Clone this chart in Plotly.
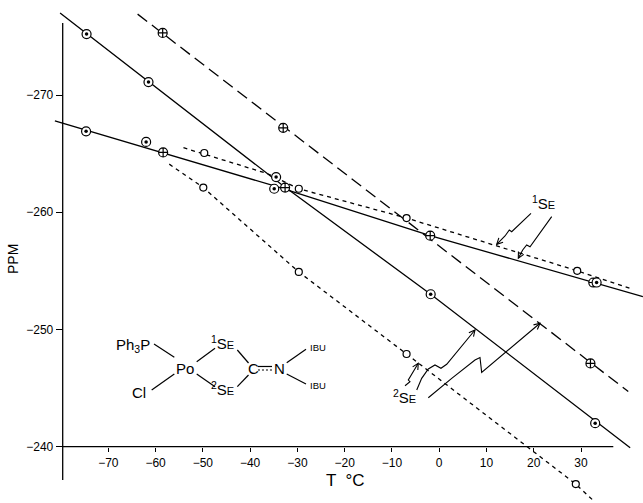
import math
import plotly.graph_objects as go

# --- data (temperature in deg C, shift in ppm) ---
# line A: steep solid line, circle-dot markers
a_temp = [-74.6, -61.5, -34.5, -1.8, 33.0]
a_ppm = [-275.2, -271.1, -263.0, -253.0, -242.0]
a_line_temp = [-80.2, -36.4, -33.5, -1.8, 40.4]
a_line_ppm = [-277.0, -263.3, -262.4, -253.0, -239.9]

# line B: long dashes, circle-cross markers
b_temp = [-58.5, -33.0, -1.9, 32.0]
b_ppm = [-275.3, -267.2, -258.0, -247.1]
b_line_temp = [-63.8, 40.0]
b_line_ppm = [-276.9, -244.7]

# line C: shallow solid line, mixed markers
c_dot_temp = [-74.7, -62.0, -34.9, 33.3]
c_dot_ppm = [-266.9, -266.0, -262.0, -254.0]
c_plus_temp = [-58.4, -32.6, 32.6]
c_plus_ppm = [-265.1, -262.1, -254.0]
c_line_temp = [-81.3, -34.5, -1.9, 32.8, 43.1]
c_line_ppm = [-267.8, -262.2, -258.0, -254.0, -252.8]

# line D: upper dotted line, open circles
d_temp = [-49.7, -29.7, -6.9, 29.2]
d_ppm = [-265.05, -262.0, -259.5, -255.0]
d_line_temp = [-54.1, -36.4, -29.7, -6.9, 29.2, 40.4]
d_line_ppm = [-265.5, -263.3, -262.0, -259.5, -255.0, -253.5]

# line E: lower dotted line, open circles
e_temp = [-49.9, -29.7, -6.9, 28.9]
e_ppm = [-262.1, -254.9, -247.9, -236.8]
e_line_temp = [-57.1, -49.9, -29.7, -6.9, 28.9, 32.6]
e_line_ppm = [-264.1, -262.1, -254.9, -247.9, -236.8, -235.4]

x_ticks = [-70, -60, -50, -40, -30, -20, -10, 0, 10, 20, 30]
y_ticks = [-270, -260, -250, -240]

# --- page geometry ---
W, H = 643, 503
X70, XS = 108.3, 4.727    # pixel of -70 C, pixels per degree
Y270, YS = 95.0, 11.72    # pixel of -270 ppm, pixels per ppm
FONT = "Liberation Sans"


def paper(px, py):
    return px / W, 1 - py / H


def path(points):
    pts = [paper(*p) for p in points]
    return "M" + " L".join(f"{x:.4f},{y:.4f}" for x, y in pts)


fig = go.Figure()

solid = dict(color="black", width=1.3)
fig.add_trace(go.Scatter(x=a_line_temp, y=a_line_ppm, mode="lines", line=solid))
fig.add_trace(go.Scatter(x=b_line_temp, y=b_line_ppm, mode="lines",
                         line=dict(color="black", width=1.3, dash="12px,6px")))
fig.add_trace(go.Scatter(x=c_line_temp, y=c_line_ppm, mode="lines", line=solid))
fig.add_trace(go.Scatter(x=d_line_temp, y=d_line_ppm, mode="lines",
                         line=dict(color="black", width=1.3, dash="4px,4px")))
fig.add_trace(go.Scatter(x=e_line_temp, y=e_line_ppm, mode="lines",
                         line=dict(color="black", width=1.3, dash="4px,4px")))

ring = dict(color="white", line=dict(color="black", width=1.2))
plus_x = b_temp + c_plus_temp
plus_y = b_ppm + c_plus_ppm
dot_x = a_temp + c_dot_temp
dot_y = a_ppm + c_dot_ppm
fig.add_trace(go.Scatter(x=plus_x, y=plus_y, mode="markers",
                         marker=dict(symbol="circle-cross", size=9, **ring)))
fig.add_trace(go.Scatter(x=dot_x, y=dot_y, mode="markers",
                         marker=dict(symbol="circle", size=9, **ring)))
fig.add_trace(go.Scatter(x=dot_x, y=dot_y, mode="markers",
                         marker=dict(symbol="circle", size=3.5, color="black")))
fig.add_trace(go.Scatter(x=d_temp + e_temp, y=d_ppm + e_ppm, mode="markers",
                         marker=dict(symbol="circle", size=7, **ring)))

x_lo = -70 - X70 / XS
x_hi = -70 + (W - X70) / XS
y_top = -270 - Y270 / YS
y_bot = -270 + (H - Y270) / YS
x_axis_px = 62.7
y_axis_px = 447.3

fig.update_layout(
    width=W, height=H,
    margin=dict(l=0, r=0, t=0, b=0),
    paper_bgcolor="white", plot_bgcolor="white",
    showlegend=False,
    font=dict(family=FONT, color="black"),
    xaxis=dict(range=[x_lo, x_hi], anchor="free", position=1 - y_axis_px / H,
               tickvals=x_ticks, ticktext=[str(t).replace("-", "\u2212") for t in x_ticks],
               ticks="outside", ticklen=4, tickwidth=1.2, tickcolor="black",
               tickfont=dict(size=12), showgrid=False, zeroline=False, showline=False),
    yaxis=dict(range=[y_bot, y_top], anchor="free", position=x_axis_px / W,
               tickvals=y_ticks, ticktext=[str(t).replace("-", "\u2212") for t in y_ticks],
               ticks="outside", ticklen=7, tickwidth=1.2, tickcolor="black",
               tickfont=dict(size=12), showgrid=False, zeroline=False, showline=False),
)

# axis lines
x_left = -70 + (x_axis_px - X70) / XS
x_right = -70 + (613.3 - X70) / XS
fig.add_shape(type="line", xref="x", yref="y", x0=x_left, x1=x_right, y0=-240, y1=-240,
              line=dict(color="black", width=1.3))
fig.add_shape(type="line", xref="x", yref="y", x0=x_left, x1=x_left,
              y0=-270 + (23 - Y270) / YS, y1=-270 + (480 - Y270) / YS,
              line=dict(color="black", width=1.3))


def label(px, py, txt, size, angle=0):
    x, y = paper(px, py)
    fig.add_annotation(x=x, y=y, xref="paper", yref="paper", text=txt,
                       xanchor="center", yanchor="middle", textangle=angle,
                       showarrow=False, font=dict(size=size))


# axis titles
label(346, 480, "T  \u00b0C", 17)
label(13, 259, "PPM", 14, -90)

# structure drawing
bonds = [
    [(154, 344), (174.3, 357.3)],
    [(151.7, 390), (174.3, 374)],
    [(196.7, 361.7), (215, 348.3)],
    [(196.7, 374), (215, 386.7)],
    [(237.3, 350), (248.5, 363)],
    [(237.3, 386.7), (248.5, 375)],
    [(258, 366.5), (272, 366.5)],
    [(286.7, 362.7), (306, 349.3)],
    [(286.7, 374), (306, 384)],
]
for seg in bonds:
    fig.add_shape(type="path", xref="paper", yref="paper", path=path(seg),
                  line=dict(color="black", width=1.2))
fig.add_shape(type="path", xref="paper", yref="paper", path=path([(258, 370), (272, 370)]),
              line=dict(color="black", width=1.2, dash="2px,2px"))

small_e = "<span style='font-size:11px'>E</span>"
se1 = "<sup>1</sup>S" + small_e
se2 = "<sup>2</sup>S" + small_e
label(133, 345, "Ph<sub>3</sub>P", 15)
label(185, 368, "Po", 15)
label(139, 392, "Cl", 15)
label(223, 342, se1, 15)
label(223, 388, se2, 15)
label(253, 368, "C", 15)
label(279, 368, "N", 15)
label(318, 347, "IBU", 9.5)
label(318, 385, "IBU", 9.5)
label(543, 203, se1, 15)
label(404, 396, se2, 15)

# squiggly arrows: body path ending in an open arrow head
arrows = [
    [(531, 213.3), (511.7, 231.7), (509.3, 230), (505, 236), (496.7, 244.3)],
    [(551.7, 216.7), (530, 246.7), (526.7, 245), (522.7, 250), (518.3, 258.3)],
    [(405, 385.7), (410, 381.7), (408.3, 380), (418.3, 363.3)],
    [(416.7, 390), (421.7, 378.3), (428.3, 369), (435, 365), (441, 368.3),
     (446.7, 364.3), (475, 330)],
    [(428.3, 397.7), (451.7, 378.3), (475, 360), (480, 357.5), (481.7, 372.3),
     (540, 323.3)],
]
for pts in arrows:
    fig.add_shape(type="path", xref="paper", yref="paper", path=path(pts),
                  line=dict(color="black", width=1.1))
    (tx, ty), (hx, hy) = pts[-2], pts[-1]
    d = math.hypot(hx - tx, hy - ty)
    ux, uy = (hx - tx) / d, (hy - ty) / d
    left = (hx - 6 * ux - 3 * uy, hy - 6 * uy + 3 * ux)
    right = (hx - 6 * ux + 3 * uy, hy - 6 * uy - 3 * ux)
    fig.add_shape(type="path", xref="paper", yref="paper", path=path([left, (hx, hy), right]),
                  line=dict(color="black", width=1.1))

fig.write_html("out.html", config={"displayModeBar": False},
               post_script="document.body.style.margin='0';")
